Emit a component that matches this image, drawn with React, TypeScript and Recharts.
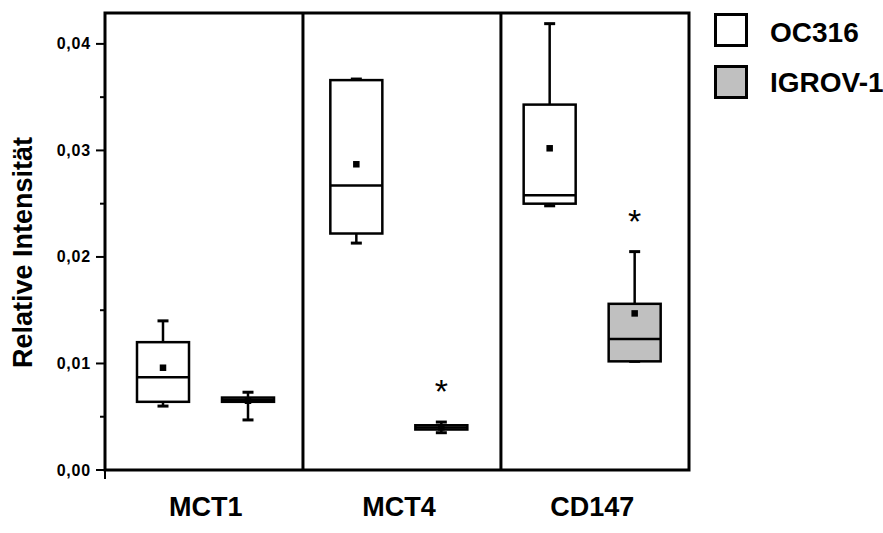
import React from "react";
import {
  ComposedChart,
  Bar,
  XAxis,
  YAxis,
  ReferenceArea,
  ReferenceLine,
} from "recharts";

const categories = ["MCT1", "MCT4", "CD147"];

// OC316 (weiße Boxen)
const oc316Min = [0.006, 0.0213, 0.0248];
const oc316Q1 = [0.0064, 0.0222, 0.025];
const oc316Median = [0.0087, 0.0267, 0.0258];
const oc316Q3 = [0.012, 0.0366, 0.0343];
const oc316Max = [0.014, 0.0367, 0.0419];
const oc316Mean = [0.0096, 0.0287, 0.0302];

// IGROV-1 (graue Boxen)
const igrovMin = [0.0047, 0.0035, 0.0102];
const igrovQ1 = [0.0064, 0.0038, 0.0102];
const igrovMedian = [0.0066, 0.004, 0.0123];
const igrovQ3 = [0.0068, 0.0042, 0.0156];
const igrovMax = [0.0073, 0.0045, 0.0205];
const igrovMean = [0.0065, 0.004, 0.0147];
const igrovSignificant = [false, true, true];

const yTicks = [0, 0.005, 0.01, 0.015, 0.02, 0.025, 0.03, 0.035, 0.04];
const Y_MAX = 0.0429;
const X_MAX = 2.95;

const FONT = '"Liberation Sans", Arial, Helvetica, sans-serif';
const GRAY = "#c0c0c0";

type Stats = {
  min: number;
  q1: number;
  median: number;
  q3: number;
  max: number;
  mean: number;
};

const data = categories.map((name, i) => ({
  name,
  slot: i + 0.5,
  oc: {
    min: oc316Min[i],
    q1: oc316Q1[i],
    median: oc316Median[i],
    q3: oc316Q3[i],
    max: oc316Max[i],
    mean: oc316Mean[i],
  } as Stats,
  ig: {
    min: igrovMin[i],
    q1: igrovQ1[i],
    median: igrovMedian[i],
    q3: igrovQ3[i],
    max: igrovMax[i],
    mean: igrovMean[i],
  } as Stats,
  sig: igrovSignificant[i],
}));

// Box aus dem Balken (q1..q3) ableiten, restliche Werte über dieselbe Skala
function BoxShape(props: any) {
  const { x, y, width, height, stats, fill, star } = props;
  const s: Stats = stats;
  const top = Math.min(y, y + height);
  const h = Math.abs(height);
  const k = h / (s.q3 - s.q1);
  const py = (v: number) => top + (s.q3 - v) * k;
  const cx = x + width / 2;
  const cap = 5.5;
  return (
    <g>
      <line x1={cx} y1={py(s.max)} x2={cx} y2={py(s.q3)} stroke="#000" strokeWidth={2.5} />
      <line x1={cx} y1={py(s.q1)} x2={cx} y2={py(s.min)} stroke="#000" strokeWidth={2.5} />
      <line x1={cx - cap} y1={py(s.max)} x2={cx + cap} y2={py(s.max)} stroke="#000" strokeWidth={3} />
      <line x1={cx - cap} y1={py(s.min)} x2={cx + cap} y2={py(s.min)} stroke="#000" strokeWidth={3} />
      <rect x={x} y={top} width={width} height={h} fill={fill} stroke="#000" strokeWidth={2.5} />
      <line x1={x} y1={py(s.median)} x2={x + width} y2={py(s.median)} stroke="#000" strokeWidth={2.5} />
      <rect x={cx - 3.25} y={py(s.mean) - 3.25} width={6.5} height={6.5} fill="#000" />
      {star && (
        <text x={cx} y={py(s.max) - 38 + 19} textAnchor="middle" fontSize={34} fontFamily={FONT}>
          *
        </text>
      )}
    </g>
  );
}

function YTick(props: any) {
  const { x, y, payload } = props;
  const v: number = payload.value;
  const major = Math.round(v * 200) % 2 === 0;
  const ax = x + 14;
  return (
    <g>
      <line x1={ax - (major ? 9 : 5)} y1={y} x2={ax} y2={y} stroke="#000" strokeWidth={2} />
      {v === 0 && <line x1={ax} y1={y} x2={ax} y2={y + 9} stroke="#000" strokeWidth={2} />}
      {major && (
        <text
          x={x}
          y={y}
          textAnchor="end"
          dominantBaseline="central"
          fontSize={16}
          fontWeight="bold"
          letterSpacing={0.8}
          fontFamily={FONT}
          fill="#000"
        >
          {v.toFixed(2).replace(".", ",")}
        </text>
      )}
    </g>
  );
}

function XTick(props: any) {
  const { x, y, payload } = props;
  return (
    <text
      x={x}
      y={y + 46}
      textAnchor="middle"
      fontSize={27}
      fontWeight="bold"
      fontFamily={FONT}
      fill="#000"
    >
      {payload.value}
    </text>
  );
}

function YTitle(props: any) {
  const vb = props.viewBox && props.viewBox.height ? props.viewBox : { x: 0, y: 13, width: 105, height: 457 };
  const cx = vb.x + 23;
  const cy = vb.y + vb.height / 2 + 11;
  return (
    <text
      x={cx}
      y={cy}
      transform={`rotate(-90, ${cx}, ${cy})`}
      textAnchor="middle"
      dominantBaseline="central"
      style={{ fontSize: 27, fontWeight: "bold", fontFamily: FONT, fill: "#000" }}
    >
      Relative Intensität
    </text>
  );
}

const legendItems = [
  { name: "OC316", fill: "#fff" },
  { name: "IGROV-1", fill: GRAY },
];

export default function App() {
  return (
    <div
      style={{
        position: "absolute",
        left: 0,
        top: 0,
        width: 883,
        height: 533,
        background: "#fff",
        fontFamily: FONT,
      }}
    >
      <ComposedChart
        width={883}
        height={533}
        data={data}
        margin={{ top: 13, right: 194, bottom: 0, left: 0 }}
        barSize={52}
        barGap={33}
      >
        <XAxis
          xAxisId="cat"
          dataKey="name"
          height={63}
          axisLine={false}
          tickLine={false}
          tickSize={0}
          tickMargin={0}
          interval={0}
          padding={{ left: 4, right: 0 }}
          tick={<XTick />}
        />
        <XAxis
          xAxisId="num"
          dataKey="slot"
          type="number"
          domain={[0, X_MAX]}
          allowDataOverflow
          hide
        />
        <YAxis
          width={105}
          type="number"
          domain={[0, Y_MAX]}
          ticks={yTicks}
          interval={0}
          allowDataOverflow
          axisLine={false}
          tickLine={false}
          tickSize={0}
          tickMargin={14}
          tick={<YTick />}
          label={<YTitle />}
        />
        <ReferenceArea
          xAxisId="num"
          x1={0}
          x2={X_MAX}
          y1={0}
          y2={Y_MAX}
          fill="none"
          stroke="#000"
          strokeWidth={3}
          ifOverflow="visible"
        />
        <ReferenceLine xAxisId="num" x={1} stroke="#000" strokeWidth={3} />
        <ReferenceLine xAxisId="num" x={2} stroke="#000" strokeWidth={3} />
        <Bar
          xAxisId="cat"
          dataKey={(d: any) => [d.oc.q1, d.oc.q3]}
          isAnimationActive={false}
          shape={(p: any) => <BoxShape {...p} stats={p.payload.oc} fill="#fff" />}
        />
        <Bar
          xAxisId="cat"
          dataKey={(d: any) => [d.ig.q1, d.ig.q3]}
          isAnimationActive={false}
          shape={(p: any) => (
            <BoxShape {...p} stats={p.payload.ig} fill={GRAY} star={p.payload.sig} />
          )}
        />
      </ComposedChart>
      <svg
        width={883}
        height={533}
        style={{ position: "absolute", left: 0, top: 0, pointerEvents: "none" }}
      >
        {legendItems.map((item, i) => (
          <g key={item.name}>
            <rect
              x={715.5}
              y={14.5 + i * 52}
              width={31}
              height={31}
              fill={item.fill}
              stroke="#000"
              strokeWidth={3}
            />
            <text
              x={770}
              y={32 + i * 50}
              dominantBaseline="central"
              fontSize={28}
              fontWeight="bold"
              fontFamily={FONT}
              fill="#000"
            >
              {item.name}
            </text>
          </g>
        ))}
      </svg>
    </div>
  );
}
